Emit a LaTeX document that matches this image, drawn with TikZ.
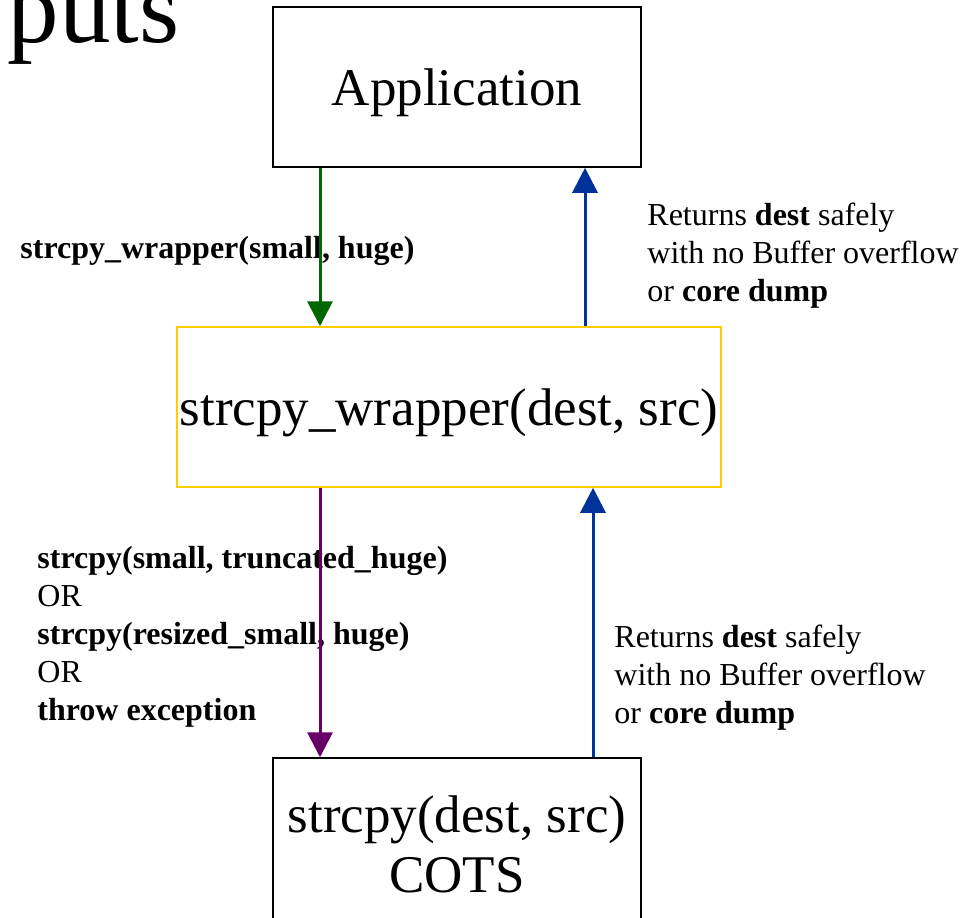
\documentclass[tikz,border=0pt]{standalone}
\usepackage{fontspec}
\setmainfont{Liberation Serif}
\usetikzlibrary{arrows.meta,positioning}
\definecolor{fwdgreen}{HTML}{006600}
\definecolor{retblue}{HTML}{003399}
\definecolor{callpurple}{HTML}{660066}
\definecolor{wrapyellow}{HTML}{FFCC00}
\tikzset{
	box/.style={draw,rectangle,align=center,inner sep=0pt,line width=0.75pt,font=\fontsize{26.5}{30}\selectfont},
	note/.style={align=left,inner sep=0pt,anchor=west,font=\fontsize{16}{19}\selectfont},
	arr/.style={-{Triangle[length=12.5pt,width=12.5pt]},line width=1.5pt}
}
\begin{document}
\begin{tikzpicture}[x=0.5pt,y=-0.5pt]
	\clip (0,0) rectangle (978,917);
	\node[anchor=base east,inner sep=0pt,font=\fontsize{51.5}{60}\selectfont] (title) at (180,42) {puts};
	\node[box,text depth=0pt,minimum width=184pt,minimum height=80pt] (app) at (457,87) {Application};
	\node[box,text depth=0pt,draw=wrapyellow,minimum width=272pt,minimum height=80pt] (wrap) at (449,407) {strcpy\_wrapper(dest, src)};
	\node[box,minimum width=184pt,minimum height=86pt] (cots) at (457,844) {strcpy(dest, src)\\COTS};
	\node[note] (callin) at (20,251) {\textbf{strcpy\_wrapper(small, huge)}};
	\node[note] (retup) at (647,256) {Returns \textbf{dest} safely\\with no Buffer overflow\\or \textbf{core dump}};
	\node[note] (callout) at (37,637) {\textbf{strcpy(small, truncated\_huge)}\\OR\\\textbf{strcpy(resized\_small, huge)}\\OR\\\textbf{throw exception}};
	\node[note] (retlow) at (614,678) {Returns \textbf{dest} safely\\with no Buffer overflow\\or \textbf{core dump}};
	\coordinate (down) at (320,0);
	\coordinate (up) at (585,0);
	\coordinate (uplow) at (593,0);
	\draw[arr,fwdgreen] (app.south -| down) -- (wrap.north -| down);
	\draw[arr,retblue] (wrap.north -| up) -- (app.south -| up);
	\draw[arr,callpurple] (wrap.south -| down) -- (cots.north -| down);
	\draw[arr,retblue] (cots.north -| uplow) -- (wrap.south -| uplow);
\end{tikzpicture}
\end{document}
